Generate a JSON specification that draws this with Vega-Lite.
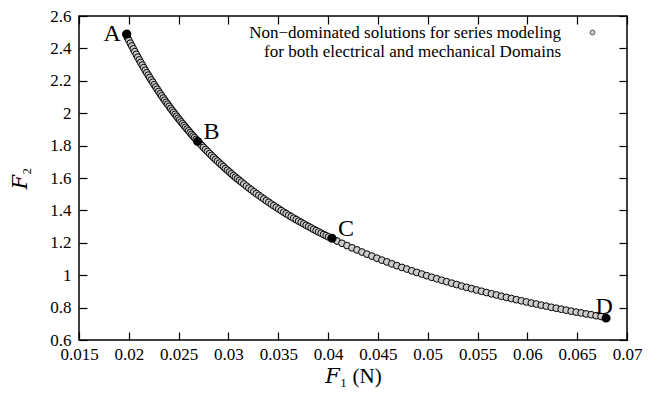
{
  "$schema": "https://vega.github.io/schema/vega-lite/v6.json",
  "width": 548,
  "height": 324,
  "autosize": {"type": "none"},
  "padding": {"left": 79, "top": 16, "right": 29, "bottom": 60},
  "background": "white",
  "config": {
    "font": "Liberation Serif",
    "view": {"stroke": "#000", "strokeWidth": 1.5},
    "style": {"guide-label": {"font": "Liberation Serif"}, "guide-title": {"font": "Liberation Serif"}},
    "axis": {
      "domain": false,
      "grid": false,
      "tickColor": "#000",
      "tickSize": -8,
      "tickWidth": 1.2,
      "labelFont": "Liberation Serif",
      "labelFontSize": 17,
      "labelColor": "#000",
      "titleFont": "Liberation Serif, DejaVu Serif",
      "titleFontSize": 21,
      "titleFontWeight": "normal",
      "titleColor": "#000"
    },
    "legend": {
      "labelFont": "Liberation Serif",
      "labelFontSize": 17,
      "labelColor": "#000"
    }
  },
  "datasets": {
    "front": [
      {"F1": 0.0197, "F2": 2.487}, {"F1": 0.01985, "F2": 2.468}, {"F1": 0.0200, "F2": 2.450}, {"F1": 0.02015, "F2": 2.432},
      {"F1": 0.0203, "F2": 2.415}, {"F1": 0.02045, "F2": 2.397}, {"F1": 0.0206, "F2": 2.380}, {"F1": 0.02075, "F2": 2.363},
      {"F1": 0.0209, "F2": 2.346}, {"F1": 0.02105, "F2": 2.329}, {"F1": 0.0212, "F2": 2.313}, {"F1": 0.02135, "F2": 2.297},
      {"F1": 0.0215, "F2": 2.281}, {"F1": 0.02165, "F2": 2.265}, {"F1": 0.0218, "F2": 2.250}, {"F1": 0.02195, "F2": 2.235},
      {"F1": 0.0221, "F2": 2.220}, {"F1": 0.02225, "F2": 2.205}, {"F1": 0.0224, "F2": 2.191}, {"F1": 0.02255, "F2": 2.176},
      {"F1": 0.0227, "F2": 2.162}, {"F1": 0.02285, "F2": 2.148}, {"F1": 0.0230, "F2": 2.134}, {"F1": 0.02315, "F2": 2.120},
      {"F1": 0.0233, "F2": 2.107}, {"F1": 0.02345, "F2": 2.093}, {"F1": 0.0236, "F2": 2.080}, {"F1": 0.02375, "F2": 2.067},
      {"F1": 0.0239, "F2": 2.055}, {"F1": 0.02405, "F2": 2.042}, {"F1": 0.0242, "F2": 2.029}, {"F1": 0.02435, "F2": 2.017},
      {"F1": 0.0245, "F2": 2.005}, {"F1": 0.02465, "F2": 1.993}, {"F1": 0.0248, "F2": 1.981}, {"F1": 0.02495, "F2": 1.969},
      {"F1": 0.0251, "F2": 1.958}, {"F1": 0.02525, "F2": 1.946}, {"F1": 0.0254, "F2": 1.935}, {"F1": 0.02555, "F2": 1.924},
      {"F1": 0.0257, "F2": 1.913}, {"F1": 0.02585, "F2": 1.902}, {"F1": 0.0260, "F2": 1.891}, {"F1": 0.02615, "F2": 1.880},
      {"F1": 0.0263, "F2": 1.869}, {"F1": 0.02645, "F2": 1.859}, {"F1": 0.0266, "F2": 1.849}, {"F1": 0.02675, "F2": 1.838},
      {"F1": 0.0269, "F2": 1.828}, {"F1": 0.0271, "F2": 1.815}, {"F1": 0.0273, "F2": 1.802}, {"F1": 0.0275, "F2": 1.789},
      {"F1": 0.0277, "F2": 1.776}, {"F1": 0.0279, "F2": 1.764}, {"F1": 0.0281, "F2": 1.751}, {"F1": 0.0283, "F2": 1.739},
      {"F1": 0.0285, "F2": 1.727}, {"F1": 0.0287, "F2": 1.715}, {"F1": 0.0289, "F2": 1.704}, {"F1": 0.0291, "F2": 1.692},
      {"F1": 0.0293, "F2": 1.681}, {"F1": 0.0295, "F2": 1.670}, {"F1": 0.0297, "F2": 1.658}, {"F1": 0.0299, "F2": 1.648},
      {"F1": 0.0301, "F2": 1.637}, {"F1": 0.0303, "F2": 1.626}, {"F1": 0.0305, "F2": 1.615}, {"F1": 0.0307, "F2": 1.605},
      {"F1": 0.0309, "F2": 1.595}, {"F1": 0.0311, "F2": 1.585}, {"F1": 0.0313, "F2": 1.575}, {"F1": 0.03155, "F2": 1.563},
      {"F1": 0.0318, "F2": 1.550}, {"F1": 0.03205, "F2": 1.538}, {"F1": 0.0323, "F2": 1.527}, {"F1": 0.03255, "F2": 1.515},
      {"F1": 0.0328, "F2": 1.504}, {"F1": 0.03305, "F2": 1.493}, {"F1": 0.0333, "F2": 1.482}, {"F1": 0.03355, "F2": 1.471},
      {"F1": 0.0338, "F2": 1.460}, {"F1": 0.03405, "F2": 1.450}, {"F1": 0.0343, "F2": 1.439}, {"F1": 0.03455, "F2": 1.429},
      {"F1": 0.0348, "F2": 1.419}, {"F1": 0.03505, "F2": 1.409}, {"F1": 0.0353, "F2": 1.399}, {"F1": 0.03555, "F2": 1.389},
      {"F1": 0.0358, "F2": 1.380}, {"F1": 0.03605, "F2": 1.370}, {"F1": 0.0363, "F2": 1.361}, {"F1": 0.03655, "F2": 1.352},
      {"F1": 0.0368, "F2": 1.343}, {"F1": 0.03705, "F2": 1.334}, {"F1": 0.0373, "F2": 1.326}, {"F1": 0.03755, "F2": 1.317},
      {"F1": 0.0378, "F2": 1.308}, {"F1": 0.03805, "F2": 1.300}, {"F1": 0.0383, "F2": 1.292}, {"F1": 0.03855, "F2": 1.283},
      {"F1": 0.0388, "F2": 1.275}, {"F1": 0.03905, "F2": 1.267}, {"F1": 0.0393, "F2": 1.259}, {"F1": 0.03955, "F2": 1.251},
      {"F1": 0.0398, "F2": 1.244}, {"F1": 0.04005, "F2": 1.236}, {"F1": 0.0403, "F2": 1.229},
      {"F1": 0.0409, "F2": 1.211}, {"F1": 0.0414, "F2": 1.197}, {"F1": 0.0419, "F2": 1.183}, {"F1": 0.0424, "F2": 1.169},
      {"F1": 0.0429, "F2": 1.156}, {"F1": 0.0434, "F2": 1.143}, {"F1": 0.0439, "F2": 1.130}, {"F1": 0.0444, "F2": 1.118},
      {"F1": 0.0449, "F2": 1.105}, {"F1": 0.0454, "F2": 1.093}, {"F1": 0.0459, "F2": 1.082}, {"F1": 0.0464, "F2": 1.070},
      {"F1": 0.0469, "F2": 1.059}, {"F1": 0.0474, "F2": 1.048}, {"F1": 0.0479, "F2": 1.038}, {"F1": 0.0484, "F2": 1.027},
      {"F1": 0.0489, "F2": 1.017}, {"F1": 0.0494, "F2": 1.007}, {"F1": 0.0499, "F2": 0.997}, {"F1": 0.0504, "F2": 0.987},
      {"F1": 0.0509, "F2": 0.978}, {"F1": 0.0514, "F2": 0.969}, {"F1": 0.0519, "F2": 0.960}, {"F1": 0.0524, "F2": 0.951},
      {"F1": 0.0529, "F2": 0.942}, {"F1": 0.0534, "F2": 0.933}, {"F1": 0.0539, "F2": 0.925}, {"F1": 0.0544, "F2": 0.917},
      {"F1": 0.0549, "F2": 0.909}, {"F1": 0.0554, "F2": 0.901}, {"F1": 0.0559, "F2": 0.893}, {"F1": 0.0564, "F2": 0.885},
      {"F1": 0.0569, "F2": 0.878}, {"F1": 0.0574, "F2": 0.870}, {"F1": 0.0579, "F2": 0.863}, {"F1": 0.0584, "F2": 0.856},
      {"F1": 0.0589, "F2": 0.849}, {"F1": 0.0594, "F2": 0.842}, {"F1": 0.0599, "F2": 0.835}, {"F1": 0.0604, "F2": 0.828},
      {"F1": 0.0609, "F2": 0.822}, {"F1": 0.0614, "F2": 0.815}, {"F1": 0.0619, "F2": 0.809}, {"F1": 0.0624, "F2": 0.802},
      {"F1": 0.0629, "F2": 0.796}, {"F1": 0.0634, "F2": 0.790}, {"F1": 0.0639, "F2": 0.784}, {"F1": 0.0644, "F2": 0.778},
      {"F1": 0.0649, "F2": 0.772}, {"F1": 0.0654, "F2": 0.767}, {"F1": 0.0659, "F2": 0.761}, {"F1": 0.0664, "F2": 0.756},
      {"F1": 0.0669, "F2": 0.750}, {"F1": 0.0674, "F2": 0.745}
    ],
    "keys": [
      {"F1": 0.0198, "F2": 2.489, "label": "A"},
      {"F1": 0.0269, "F2": 1.826, "label": "B"},
      {"F1": 0.0404, "F2": 1.228, "label": "C"},
      {"F1": 0.0679, "F2": 0.735, "label": "D"}
    ]
  },
  "layer": [
    {
      "data": {"name": "front"},
      "mark": {"type": "point", "shape": "circle", "filled": true, "stroke": "#000", "strokeWidth": 1, "size": 46, "opacity": 1},
      "encoding": {
        "x": {
          "field": "F1", "type": "quantitative",
          "scale": {"domain": [0.015, 0.07], "nice": false, "zero": false},
          "axis": {"orient": "bottom", "values": [0.015, 0.02, 0.025, 0.03, 0.035, 0.04, 0.045, 0.05, 0.055, 0.06, 0.065, 0.07], "format": "~g", "labelFont": "Liberation Serif", "labelFontSize": 17, "labelPadding": 14, "title": "𝐹₁ (N)", "titleFont": "Liberation Serif, DejaVu Serif", "titleFontSize": 21, "titlePadding": 3, "labelFlush": false}
        },
        "y": {
          "field": "F2", "type": "quantitative",
          "scale": {"domain": [0.6, 2.6], "nice": false, "zero": false},
          "axis": {"orient": "left", "values": [0.6, 0.8, 1, 1.2, 1.4, 1.6, 1.8, 2, 2.2, 2.4, 2.6], "format": "~g", "labelFont": "Liberation Serif", "labelFontSize": 17, "labelPadding": 16, "title": "𝐹₂", "titleFont": "Liberation Serif, DejaVu Serif", "titleFontSize": 21, "titlePadding": 19, "labelFlush": false}
        },
        "color": {
          "datum": "Non−dominated solutions",
          "type": "nominal",
          "scale": {"range": ["#cccccc"]},
          "legend": {
            "title": null,
            "orient": "none",
            "legendX": 505,
            "legendY": 8,
            "symbolType": "circle",
            "symbolSize": 24,
            "symbolStrokeColor": "#555",
            "symbolStrokeWidth": 1,
            "labelFont": "Liberation Serif",
            "labelFontSize": 17,
            "labelAlign": "right",
            "labelOffset": -40,
            "labelLimit": 0,
            "labelExpr": "['Non−dominated solutions for series modeling', 'for both electrical and mechanical Domains']"
          }
        }
      }
    },
    {
      "data": {"name": "keys"},
      "mark": {"type": "point", "shape": "circle", "filled": true, "color": "#000", "size": 80, "opacity": 1},
      "encoding": {
        "x": {"field": "F1", "type": "quantitative", "axis": {"orient": "top", "values": [0.015, 0.02, 0.025, 0.03, 0.035, 0.04, 0.045, 0.05, 0.055, 0.06, 0.065, 0.07], "labels": false, "title": null}},
        "y": {"field": "F2", "type": "quantitative", "axis": {"orient": "right", "values": [0.6, 0.8, 1, 1.2, 1.4, 1.6, 1.8, 2, 2.2, 2.4, 2.6], "labels": false, "title": null}}
      }
    },
    {
      "data": {"name": "keys"},
      "transform": [{"filter": "datum.label === 'A'"}],
      "mark": {"type": "text", "align": "right", "baseline": "alphabetic", "dx": -6, "dy": 7, "fontSize": 24, "font": "Liberation Serif", "color": "#000"},
      "encoding": {
        "x": {"field": "F1", "type": "quantitative", "axis": null},
        "y": {"field": "F2", "type": "quantitative", "axis": null},
        "text": {"field": "label"}
      }
    },
    {
      "data": {"name": "keys"},
      "transform": [{"filter": "datum.label === 'B' || datum.label === 'C'"}],
      "mark": {"type": "text", "align": "left", "baseline": "alphabetic", "dx": 6, "dy": -2, "fontSize": 24, "font": "Liberation Serif", "color": "#000"},
      "encoding": {
        "x": {"field": "F1", "type": "quantitative", "axis": null},
        "y": {"field": "F2", "type": "quantitative", "axis": null},
        "text": {"field": "label"}
      }
    },
    {
      "data": {"name": "keys"},
      "transform": [{"filter": "datum.label === 'D'"}],
      "mark": {"type": "text", "align": "center", "baseline": "alphabetic", "dx": -2, "dy": -4, "fontSize": 24, "font": "Liberation Serif", "color": "#000"},
      "encoding": {
        "x": {"field": "F1", "type": "quantitative", "axis": null},
        "y": {"field": "F2", "type": "quantitative", "axis": null},
        "text": {"field": "label"}
      }
    }
  ],
  "resolve": {"axis": {"x": "independent", "y": "independent"}}
}
